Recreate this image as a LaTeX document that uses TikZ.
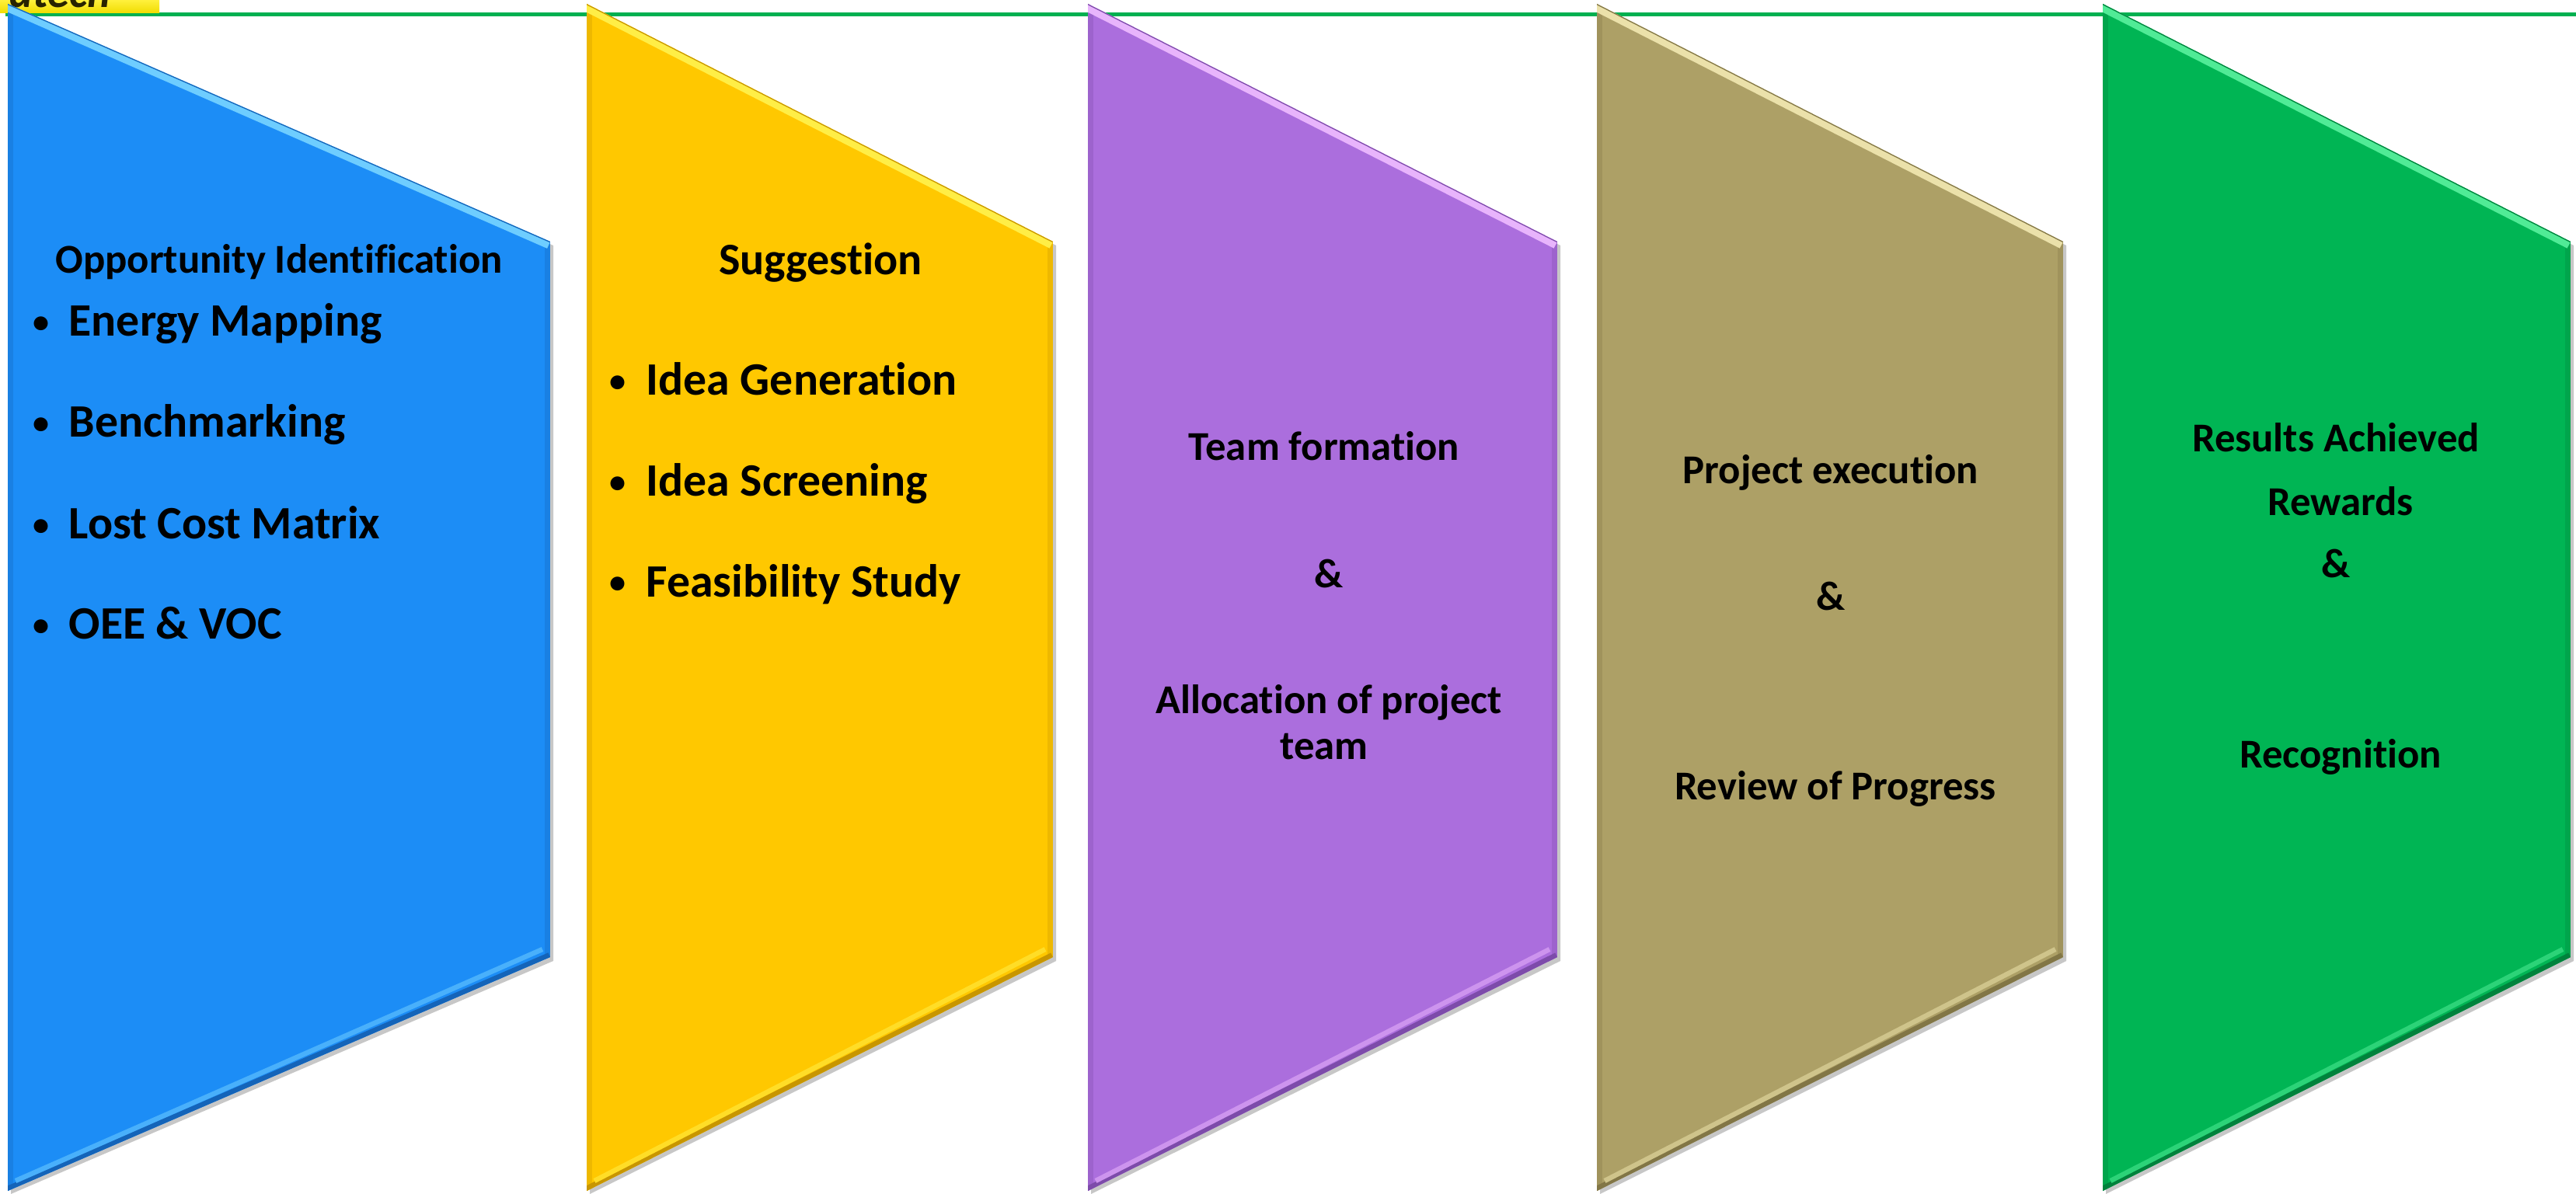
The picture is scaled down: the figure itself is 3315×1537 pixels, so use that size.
\documentclass[tikz,border=0pt]{standalone}
\usepackage{fontspec}
\setmainfont{Carlito}[Ligatures={NoCommon}]
\definecolor{pblue}{RGB}{28,141,246}
\definecolor{pbluel}{RGB}{110,205,255}
\definecolor{pblued}{RGB}{20,100,185}
\definecolor{pyel}{RGB}{255,200,0}
\definecolor{pyell}{RGB}{255,238,70}
\definecolor{pyeld}{RGB}{200,150,0}
\definecolor{ppur}{RGB}{171,110,221}
\definecolor{ppurl}{RGB}{232,180,252}
\definecolor{ppurd}{RGB}{125,75,170}
\definecolor{poli}{RGB}{173,160,102}
\definecolor{polil}{RGB}{235,225,170}
\definecolor{polid}{RGB}{130,118,70}
\definecolor{pgrn}{RGB}{0,181,84}
\definecolor{pgrnl}{RGB}{80,235,150}
\definecolor{pgrnd}{RGB}{0,130,60}
\definecolor{rule}{RGB}{0,176,80}

% one bevelled panel: left x, right x, fill, light edge, dark edge
\newcommand\drawpanel[5]{%
  \fill[black, opacity=0.22] (#1+4,10) -- (#2+4,316) -- (#2+4,1237) -- (#1+4,1537) -- cycle;
  \begin{scope}
    \clip (#1,5) -- (#2,311) -- (#2,1232) -- (#1,1533) -- cycle;
    \fill[#3] (#1,0) rectangle (#2,1537);
    \fill[#5, opacity=0.30] (#1,0) rectangle (#1+7,1537);
    \fill[#5, opacity=0.30] (#2-7,0) rectangle (#2,1537);
    \draw[#4, line width=5.5pt] (#1,5) -- (#2,311);
    \draw[#5, line width=0.7pt] (#1,5) -- (#2,311);
    \draw[#5, line width=3.5pt] (#1,1533) -- (#2,1232);
    \draw[#4!55!#3, line width=1.8pt] (#1+10,1520) -- (#2-10,1222);
  \end{scope}
}

\begin{document}
\begin{tikzpicture}[x=0.01cm, y=-0.01cm,
  hdr/.style={font=\fontsize{15}{18}\selectfont\bfseries, anchor=base, inner sep=0pt},
  itm/.style={font=\fontsize{17}{20}\selectfont\bfseries, anchor=base west, inner sep=0pt},
  dot/.style={font=\fontsize{12}{14}\selectfont\bfseries, anchor=center, inner sep=0pt}]
\useasboundingbox (0,0) rectangle (3315,1537);
\fill[white] (0,0) rectangle (3315,1537);

% header rule and logo strip
\draw[rule, line width=1.15pt] (7,18.5) -- (3315,18.5);
\begin{scope}
  \clip (0,0) rectangle (205,17);
  \shade[top color={rgb,255:red,255;green,240;blue,60}, bottom color={rgb,255:red,240;green,220;blue,0}] (0,0) rectangle (205,17);
  \node[anchor=base west, inner sep=0pt, font=\fontsize{16}{18}\selectfont\bfseries\itshape, text={rgb,255:red,40;green,35;blue,0}] (logo) at (12,10) {atech};
\end{scope}

% panels
\drawpanel{10}{708}{pblue}{pbluel}{pblued}
\drawpanel{755}{1355}{pyel}{pyell}{pyeld}
\drawpanel{1400}{2004}{ppur}{ppurl}{ppurd}
\drawpanel{2055}{2655}{poli}{polil}{polid}
\drawpanel{2706}{3308}{pgrn}{pgrnl}{pgrnd}

% stage 1
\node[hdr] (oi) at (359,352) {Opportunity Identification};
\node[dot] (b1) at (53,418) {•};
\node[itm] (em) at (88,433) {Energy Mapping};
\node[dot] (b2) at (53,548) {•};
\node[itm] (bm) at (88,563) {Benchmarking};
\node[dot] (b3) at (53,679) {•};
\node[itm] (lc) at (88,694) {Lost Cost Matrix};
\node[dot] (b4) at (53,808) {•};
\node[itm] (ov) at (88,823) {OEE \& VOC};

% stage 2
\node[hdr, font=\fontsize{16.5}{19}\selectfont\bfseries] (sg) at (1056,354) {Suggestion};
\node[dot] (c1) at (795,494) {•};
\node[itm] (ig) at (831,509) {Idea Generation};
\node[dot] (c2) at (795,624) {•};
\node[itm] (is) at (831,639) {Idea Screening};
\node[dot] (c3) at (795,753) {•};
\node[itm] (fs) at (831,768) {Feasibility Study};

% stage 3
\node[hdr] (tf) at (1704,593) {Team formation};
\node[hdr] (a3) at (1710,756) {\&};
\node[hdr] (ap) at (1710,918) {Allocation of project};
\node[hdr] (tm) at (1704,977) {team};

% stage 4
\node[hdr] (pe) at (2356,623) {Project execution};
\node[hdr] (a4) at (2356,785) {\&};
\node[hdr] (rp) at (2362,1029) {Review of Progress};

% stage 5
\node[hdr] (ra) at (3006,582) {Results Achieved};
\node[hdr] (rw) at (3012,663) {Rewards};
\node[hdr] (a5) at (3006,744) {\&};
\node[hdr] (rc) at (3012,988) {Recognition};
\end{tikzpicture}
\end{document}
